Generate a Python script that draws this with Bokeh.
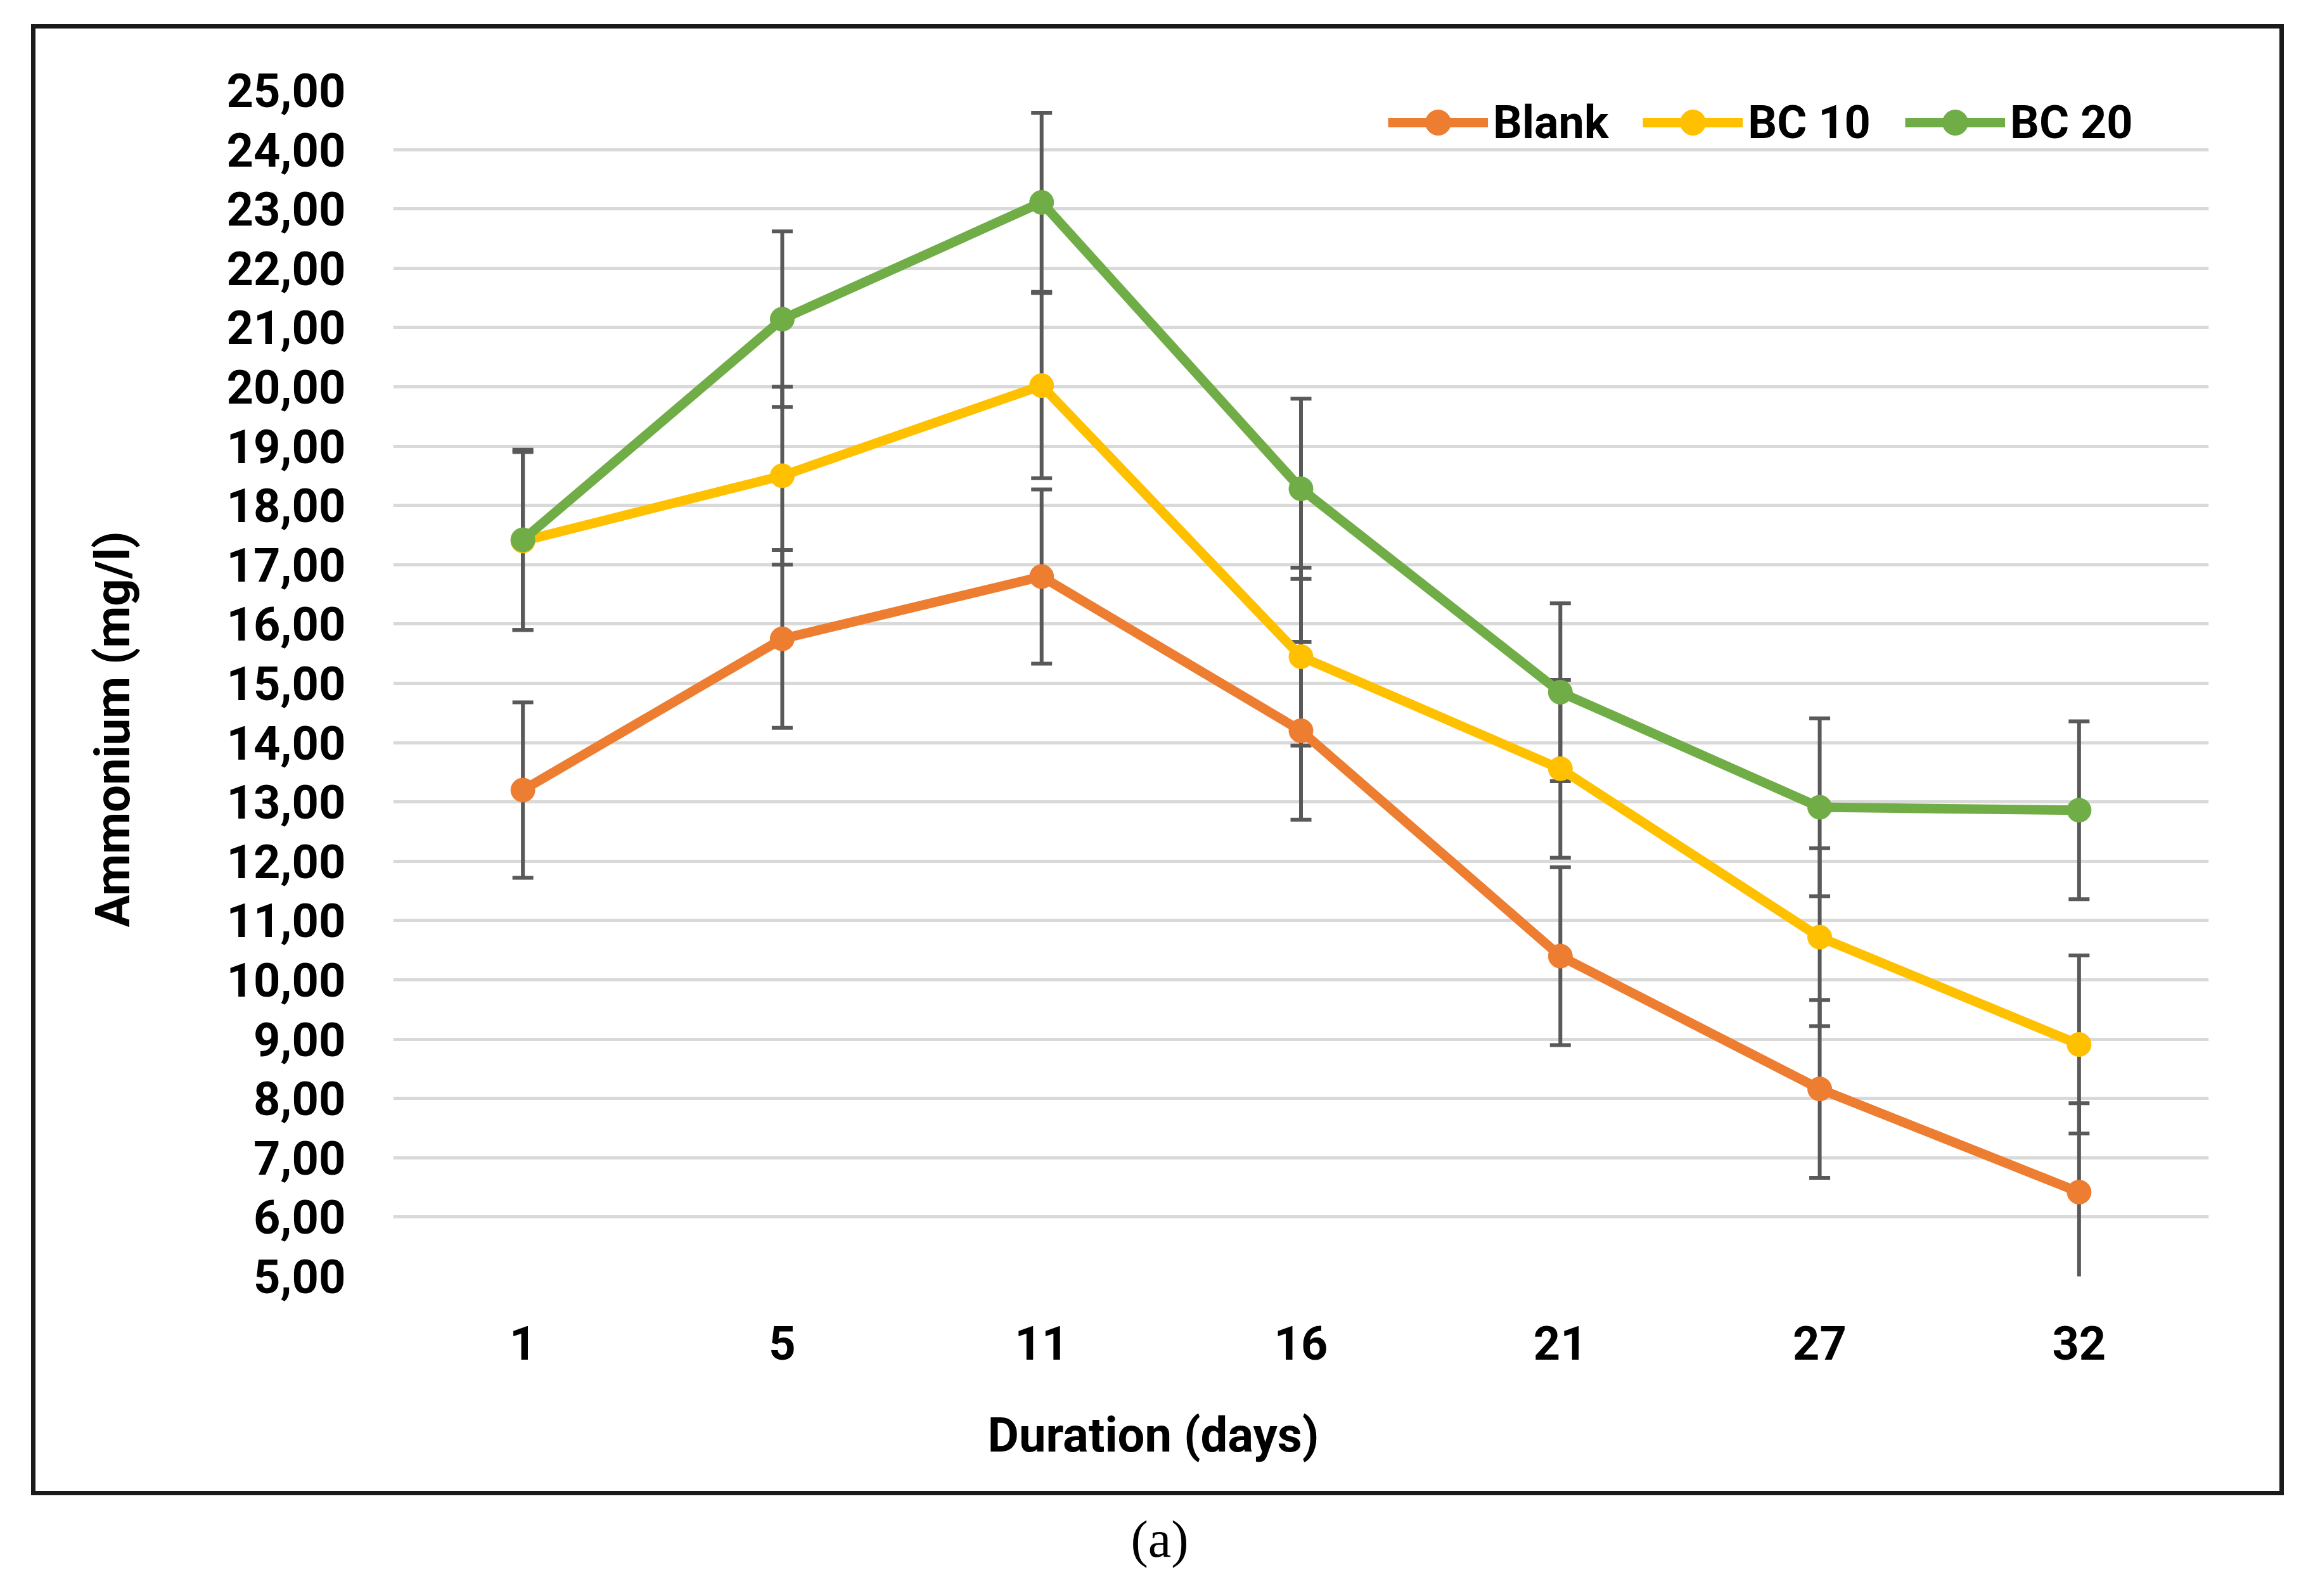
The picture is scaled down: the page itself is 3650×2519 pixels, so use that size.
from bokeh.plotting import figure
from bokeh.models import (ColumnDataSource, FactorRange, Range1d, FixedTicker, Whisker,
                          TeeHead, Legend, LegendItem, Title)
from bokeh.embed import file_html
from bokeh.resources import INLINE

# ---------------- data ----------------
days = ["1", "5", "11", "16", "21", "27", "32"]
blank = [13.20, 15.75, 16.80, 14.20, 10.40, 8.16, 6.42]
bc10 = [17.40, 18.50, 20.02, 15.45, 13.56, 10.72, 8.91]
bc20 = [17.42, 21.14, 23.11, 18.28, 14.85, 12.91, 12.86]
blank_err = [1.48, 1.50, 1.47, 1.50, 1.50, 1.50, 1.50]
bc10_err = [1.50, 1.50, 1.56, 1.50, 1.50, 1.50, 1.50]
bc20_err = [1.52, 1.48, 1.51, 1.52, 1.50, 1.50, 1.50]
series_names = ["Blank", "BC 10", "BC 20"]
series_colors = ["#ED7D31", "#FFC000", "#70AD47"]
y_ticks = [5, 6, 7, 8, 9, 10, 11, 12, 13, 14, 15, 16, 17, 18, 19, 20, 21, 22, 23, 24, 25]
y_tick_labels = ["5,00", "6,00", "7,00", "8,00", "9,00", "10,00", "11,00", "12,00",
                 "13,00", "14,00", "15,00", "16,00", "17,00", "18,00", "19,00", "20,00",
                 "21,00", "22,00", "23,00", "24,00", "25,00"]
x_title = "Duration (days)"
y_title = "Ammonium (mg/l)"
caption = "(a)"

FONT = "Roboto"

box_css = (":host::after { content: ''; position: absolute; left: 49px; top: 38px; "
           "width: 3555px; height: 2322px; border: 7px solid #1a1a1a; "
           "box-sizing: border-box; pointer-events: none; }")

p = figure(x_range=FactorRange(factors=days), y_range=Range1d(5, 25),
           width=3650, height=2515, output_backend="svg", toolbar_location=None,
           min_border_left=617, min_border_right=165, min_border_top=142,
           min_border_bottom=501, stylesheets=[box_css])
p.background_fill_color = "white"
p.border_fill_color = "white"
p.outline_line_color = None

# grid
p.xgrid.grid_line_color = None
p.ygrid.grid_line_color = "#D9D9D9"
p.ygrid.grid_line_width = 5

# axes
for ax in (p.xaxis[0], p.yaxis[0]):
    ax.axis_line_color = None
    ax.major_tick_line_color = None
    ax.major_tick_out = 0
    ax.major_tick_in = 0
    ax.minor_tick_line_color = None
    ax.minor_tick_out = 0
    ax.major_label_text_font = FONT
    ax.major_label_text_font_style = "bold"
    ax.major_label_text_font_size = "74px"
    ax.major_label_text_color = "black"
p.xaxis.major_label_standoff = 78
p.yaxis.major_label_standoff = 75
p.yaxis.ticker = FixedTicker(ticks=y_ticks)
p.yaxis.major_label_overrides = dict(zip(y_ticks, y_tick_labels))

# series
all_vals = [blank, bc10, bc20]
all_errs = [blank_err, bc10_err, bc20_err]
items = []
for name, vals, errs, col in zip(series_names, all_vals, all_errs, series_colors):
    src = ColumnDataSource(dict(day=days, val=vals,
                                lower=[v - e for v, e in zip(vals, errs)],
                                upper=[v + e for v, e in zip(vals, errs)]))
    w = Whisker(source=src, base="day", lower="lower", upper="upper", dimension="height",
                line_color="#595959", line_width=6, level="underlay",
                upper_head=TeeHead(size=33, line_color="#595959", line_width=6),
                lower_head=TeeHead(size=33, line_color="#595959", line_width=6))
    p.add_layout(w)
    rl = p.line(x="day", y="val", source=src, line_color=col, line_width=15)
    rs = p.scatter(x="day", y="val", source=src, size=38, fill_color=col, line_color=col)
    items.append(LegendItem(label=name, renderers=[rl, rs]))

legend = Legend(items=items, orientation="horizontal", location=(1570, 1771),
                glyph_width=158, glyph_height=100, label_standoff=8, spacing=54,
                padding=0, margin=0, border_line_color=None, background_fill_alpha=0,
                label_text_font=FONT, label_text_font_style="bold",
                label_text_font_size="72px", label_text_color="black")
p.add_layout(legend)

# axis titles and caption (in the side panels, so they are not clipped)
p.add_layout(Title(text=x_title, align="left", offset=938, vertical_align="top",
                   standoff=143, text_font=FONT, text_font_style="bold",
                   text_font_size="76px", text_color="black"), "below")
p.add_layout(Title(text=caption, align="left", offset=1164, vertical_align="top",
                   standoff=0, text_font="Liberation Serif", text_font_style="normal",
                   text_font_size="82px", text_color="black"), "below")
p.add_layout(Title(text=y_title, align="left", offset=551, vertical_align="middle",
                   standoff=262, text_font=FONT, text_font_style="bold",
                   text_font_size="76px", text_color="black"), "left")

open("out.html", "w").write(file_html(p, INLINE))
